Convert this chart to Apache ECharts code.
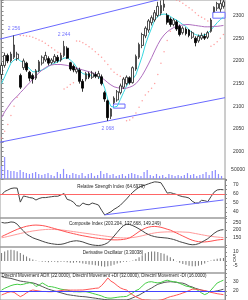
<!DOCTYPE html>
<html><head><meta charset="utf-8">
<script src="https://cdn.jsdelivr.net/npm/echarts@6/dist/echarts.min.js"></script>
<style>html,body{margin:0;padding:0;background:#fff}#c{width:248px;height:300px}</style>
</head><body><div id="c"></div>
<script>
const days = Array.from({length:72},(_,i)=>String(i+1));
const opens  = [2170,2190,2212,2200,2208,2205,2168,2185,2195,2175,2168,2162,2178,2195,2202,2205,2196,2198,2208,2202,2212,2228,2196,2188,2176,2180,2155,2160,2172,2164,2170,2165,2165,2130,2112,2078,2108,2114,2130,2142,2150,2163,2152,2182,2208,2234,2255,2268,2284,2290,2300,2305,2318,2300,2292,2280,2286,2276,2262,2270,2268,2252,2250,2244,2250,2254,2252,2265,2308,2316,2314,2320];
const closes = [2190,2212,2200,2215,2235,2215,2142,2200,2180,2162,2160,2178,2198,2208,2212,2195,2202,2210,2200,2212,2232,2206,2182,2180,2182,2155,2140,2172,2164,2173,2166,2172,2150,2116,2075,2094,2118,2132,2145,2160,2164,2152,2185,2210,2236,2258,2272,2288,2295,2306,2320,2322,2325,2285,2280,2290,2270,2258,2272,2260,2256,2262,2240,2254,2256,2250,2262,2290,2318,2326,2326,2330];
const lows   = [2160,2185,2195,2196,2204,2200,2138,2180,2176,2155,2150,2158,2175,2190,2198,2190,2192,2195,2196,2198,2208,2204,2178,2175,2172,2150,2132,2155,2160,2160,2162,2160,2146,2110,2068,2072,2105,2110,2126,2138,2146,2148,2150,2178,2204,2228,2250,2262,2278,2286,2296,2300,2310,2280,2275,2276,2266,2254,2258,2256,2252,2248,2232,2240,2246,2246,2248,2262,2307,2310,2308,2315];
const highs  = [2196,2218,2216,2220,2256,2220,2172,2205,2198,2178,2172,2182,2202,2212,2220,2210,2206,2215,2213,2218,2244,2232,2198,2192,2186,2185,2160,2176,2176,2178,2176,2178,2170,2134,2115,2096,2122,2136,2150,2164,2168,2166,2188,2214,2240,2262,2276,2292,2300,2312,2330,2333,2338,2305,2296,2294,2290,2280,2276,2274,2270,2266,2254,2258,2262,2260,2266,2294,2320,2330,2336,2334];
const maFast = [2150,2165,2180,2195,2202,2205,2200,2197,2190,2182,2176,2176,2178,2180,2183,2188,2192,2195,2198,2202,2206,2207,2202,2196,2186,2178,2172,2170,2169,2168,2168,2166,2158,2140,2115,2100,2098,2100,2115,2130,2145,2155,2160,2170,2190,2210,2235,2255,2272,2290,2298,2302,2303,2302,2298,2293,2290,2285,2280,2276,2268,2262,2258,2256,2256,2257,2261,2268,2276,2284,2291,2296];
const maSlow = [2075,2088,2098,2108,2116,2122,2130,2137,2145,2152,2160,2167,2174,2180,2185,2189,2191,2192,2192,2192,2191,2190,2188,2186,2184,2182,2180,2178,2176,2174,2171,2167,2163,2158,2152,2147,2143,2141,2140,2139,2140,2142,2145,2150,2158,2168,2180,2193,2207,2222,2236,2248,2257,2264,2269,2273,2276,2278,2279,2280,2280,2279,2278,2277,2276,2275,2275,2275,2276,2276,2277,2278];
const sar = [2030,2045,2060,2080,2100,2120,2256,2256,2255,2254,2252,2249,2246,2243,2239,2234,2229,2224,2219,2215,2138,2142,2148,2152,2244,2243,2240,2236,2231,2226,2220,2214,2208,2200,2192,2182,2175,2170,2166,2162,2068,2070,2075,2085,2098,2112,2125,2132,2140,2150,2170,2195,2220,2245,2265,2336,2334,2331,2327,2322,2317,2312,2306,2300,2296,2292,2288,2232,2236,2242,2250,2258];
const volume = [72000,122000,50000,44000,44000,39000,50000,39000,33000,28000,33000,39000,28000,22000,28000,33000,22000,17000,39000,28000,56000,28000,22000,33000,28000,22000,33000,17000,28000,33000,17000,22000,44000,28000,33000,22000,28000,17000,22000,28000,17000,28000,33000,28000,22000,17000,39000,50000,22000,17000,28000,17000,22000,11000,28000,22000,17000,22000,17000,22000,33000,22000,28000,17000,22000,28000,39000,22000,44000,50000,28000,17000];
const upperTrend = [[-0.5,2248],[71.5,2371]];
const lowerTrend = [[-0.5,2021],[71.5,2119]];
const gapBoxes = [[35.8,2096,39.5,2105],[67.6,2294,71.5,2307]];
const peaks = [[4,2256,'top'],[20,2244,'top'],[34,2068,'bottom']];
const rsi = [58.9,62.8,64.4,66.1,66.7,66.5,51,57.8,57,56,55.5,53.3,55,56,56,56.5,57,57.5,57.5,59,60.5,54,53,51,47,46.5,50,48.5,48,50,49,47.8,42,36.7,38.5,40.3,43,45,47.5,51,54.5,58.5,62,65,67.5,69,70,71.3,72.5,73.5,73.2,72.5,67,61,61.5,60.5,59.5,58,57,56.5,55.5,52,50,50,53,52.5,51.5,57,62,64.5,65,64.6979];
const rsiTrend = [[33,36.8],[71,53.4]];
const compIdx = [252,248,250,255,253,240,215,195,172,160,148,140,133,125,118,112,108,105,103,104,108,115,122,126,128,125,120,112,105,100,97,96,98,104,115,135,160,185,210,230,240,238,230,220,208,195,181,170,162,156,152,150,148,146,142,137,130,122,116,110,104,101,102,108,118,130,142,160,178,192,200,203.204];
const compFast = [156,166,176,186,196,205,213,220,226,230,233,234,233,231,227,222,216,210,204,198,192,186,181,176,171,166,162,158,154,150,147,144,141,139,137,135,134,134,135,137,141,148,160,175,190,203,213,220,224,225,223,219,213,206,200,190,180,170,160,150,140,132,126,122,120,120,122,125,129,133,135.5,137.668];
const compSlow = [148,152,157,162,167,172,177,182,186,190,194,197,200,202,204,205,205,204,203,201,199,196,193,190,187,184,181,178,175,172,169,166,163,160,157,154,151,149,148,147,147,148,150,153,157,162,167,172,177,181,184,186,187,188,188,188,188,188,187,186,185,181,177,173,169,165,161,158,155,153,151,149.249];
const derivOsc = [9,10.5,12,12.5,12,11,9,7,5,3,1.5,0.5,-0.5,-1,-1,-1.5,-1,-1,-1.5,-1,-1,-1.5,-2,-2,-1.5,-2,-3,-3.5,-4,-4.5,-5,-5.5,-6,-6.5,-6,-5.5,-4.5,-3,-2,-1,-1,-0.5,0.5,2,4,6.5,8.5,10,10.5,10.5,10,9,8,6,4,2,-0.5,-2,-3.5,-4.5,-5.5,-6,-6,-5.5,-4.5,-3,-1,0.5,1.5,2.5,3,3.30038];
const adx = [36,35,34.5,34,33,32,31,30.5,30,29.5,29,28,26.5,25,23.5,22,21,20,19,18,17,16,15.5,15,14.5,14,13.8,13.5,13,12.5,12,11.5,11,10.5,10.2,10,10,10,10,10,10,11,12.5,14,15.5,17.5,19.5,21.5,23.3,25.5,27.5,28.5,29.5,30,30.3,30,29.5,29,28.7,27.5,25.5,24.5,23,22,21,20,19.5,19.2,19.5,20.2,21,22];
const diPlus = [21,23,24.5,26,27,27.5,27,27.5,28.5,29.2,28.5,25,26.5,29,27,25,24.8,24,23,22,21.5,21,20,19.2,19.2,19,19.2,19.2,18.5,17.5,16.5,15.6,14.5,13,12.2,12,12.5,13,13.5,13.7,14,16,18,20.5,22,25.5,28.5,30,30.3,29.5,29,29.5,31,32,31,30.3,30,28.5,27,25.5,24.8,23.5,22.2,20.5,17.8,16,17.5,21,25,28.9,30.5,32];
const diMinus = [15.6,17,18.5,19.2,18.5,16,13.7,15.5,18,20,21.1,20.5,20,19.5,19.5,19.2,19.2,19.5,20,20.5,21,21.1,21,21,21,21.1,21.1,21.5,22,22.5,23,23.3,26,30,34.4,31,28.9,26,23.5,22,21.1,18,15.6,13.5,12,10.5,10,10,9.5,9.5,9.5,10,11,12.5,13.7,14.5,15.5,16.5,17.8,19,20.5,22,22,21.5,21,20.5,19.5,18.5,17.8,17,16.5,16];
const priceLabels = [2000,2050,2100,2150,2200,2250,2300];
const volLabels = [50000];
const rsiLabels = [40,50,60,70];
const compLabels = [150,200,250];
const derivLabels = [-5,0,5,10];
const dmiLabels = [20,30];

const FONT = 'Liberation Sans, Arial, sans-serif';
const ohlc = opens.map((o,i)=>[o,closes[i],lows[i],highs[i]]);
const grids = [
  {left:0, top:0, width:225, height:179},
  {left:0, top:150, width:225, height:29},
  {left:0, top:179, width:225, height:39},
  {left:0, top:218, width:225, height:29},
  {left:0, top:247, width:225, height:26},
  {left:0, top:273, width:225, height:27}
].map((g,i)=>Object.assign(g,{show:i!==1, borderColor:'#9a9a9a', borderWidth:1, backgroundColor:'transparent'}));

function catX(gi){return {type:'category', gridIndex:gi, data:days, show:false, boundaryGap:true};}
function yAx(gi, labels, extra){
  return Object.assign({type:'value', gridIndex:gi, position:'right',
    axisLine:{show:true, lineStyle:{color:'#8a8a8a', width:1}},
    axisTick:{show:true, length:2, lineStyle:{color:'#8a8a8a'}},
    splitLine:{show:false},
    axisLabel:{fontSize:5, color:'#333', margin:8, fontFamily:FONT, showMinLabel:true, showMaxLabel:true,
      formatter:v=>{const r=Math.round(v*1000)/1000; return labels.indexOf(r)>=0?String(r):'';}}
  }, extra);
}
const xAxis = [catX(0), {type:'value', gridIndex:0, min:-0.5, max:71.5, show:false}, catX(1), catX(2), catX(3), catX(4), catX(5)];
const yAxis = [
  yAx(0, priceLabels, {min:1940, max:2334, interval:10}),
  yAx(1, volLabels, {min:0, max:161111, interval:50000, axisLine:{show:false}, axisTick:{show:false}}),
  yAx(2, rsiLabels, {min:33.33, max:76.67, splitNumber:9}),
  yAx(3, compLabels, {min:85.8, max:281.8, splitNumber:4, minorTick:{show:true, splitNumber:4, length:1, lineStyle:{color:'#8a8a8a'}}}),
  yAx(4, derivLabels, {min:-13.7, max:15.7, splitNumber:6}),
  yAx(5, dmiLabels, {min:10, max:40, interval:5})
];
function line(name, xi, yi, data, color, w){
  return {name, type:'line', xAxisIndex:xi, yAxisIndex:yi, data, showSymbol:false, symbol:'none',
    lineStyle:{color, width:w||1}, itemStyle:{color}, clip:true, silent:true, z:3};
}
const fmtK = v => String(v).replace(/(\d)(\d{3})$/, '$1 $2');
const series = [
  {type:'candlestick', xAxisIndex:0, yAxisIndex:0, data:ohlc, barWidth:2.2,
   itemStyle:{color:'#ffffff', color0:'#000000', borderColor:'#222', borderColor0:'#000', borderWidth:0.8}, z:4},
  line('maFast',0,0,maFast,'#38d8e0',1),
  line('maSlow',0,0,maSlow,'#b070c0',1),
  {type:'scatter', xAxisIndex:0, yAxisIndex:0, data:sar, symbol:'circle', symbolSize:1.5, itemStyle:{color:'#ff8888'}, silent:true, z:2},
  Object.assign(line('upper',1,0,upperTrend,'#6a6aff',1), {
    markArea:{silent:true, data:gapBoxes.map(b=>[{coord:[b[0],b[1]]},{coord:[b[2],b[3]]}]),
      itemStyle:{color:'rgba(255,255,255,0.9)', borderColor:'#6a6aff', borderWidth:1}}}),
  line('lower',1,0,lowerTrend,'#6a6aff',1),
  {type:'scatter', xAxisIndex:0, yAxisIndex:0, symbolSize:0, silent:true, z:6,
   data:peaks.map(p=>({value:[p[0],p[1]], label:{position:p[2], distance:p[2]==='top'?4:5}})),
   label:{show:true, fontSize:5, color:'#5050ff', fontFamily:FONT, formatter:p=>fmtK(p.value[1])}},
  {type:'bar', xAxisIndex:2, yAxisIndex:1, data:volume, barWidth:1.2, itemStyle:{color:'#8c8cff'}, silent:true},
  Object.assign(line('rsi',3,2,rsi,'#444',1), {markLine:{silent:true, symbol:'none', label:{show:false},
    lineStyle:{color:'#ff6666', width:1, type:'solid'}, data:[{yAxis:60}]}}),
  line('rsiTrend',3,2,rsiTrend,'#6a6aff',1),
  line('compSlow',4,3,compSlow,'#ff9a9a',1),
  line('compFast',4,3,compFast,'#ff5050',1),
  line('comp',4,3,compIdx,'#444',1),
  {type:'bar', xAxisIndex:5, yAxisIndex:4, data:derivOsc, barWidth:0.9, itemStyle:{color:'#777'}, silent:true},
  Object.assign(line('adx',6,5,adx,'#555',1), {markLine:{silent:true, symbol:'none', label:{show:false},
    lineStyle:{color:'#4444ff', width:1, type:'solid'}, data:[{yAxis:20}]}}),
  line('diPlus',6,5,diPlus,'#44cc44',1),
  line('diMinus',6,5,diMinus,'#ff5555',1)
];
function title(text, x, y){
  return {type:'text', x, y, z:100, silent:true,
    style:{text, fill:'#222', font:'4.5px '+FONT, textAlign:'center', textVerticalAlign:'middle'}};
}
const chart = echarts.init(document.getElementById('c'), null, {renderer:'canvas'});
chart.setOption({
  animation:false, backgroundColor:'#fff',
  grid:grids, xAxis, yAxis, series,
  graphic:[
    title('Relative Strength Index (64.6979)', 111, 186.5),
    title('Composite Index (203.204, 137.668, 149.249)', 115, 223.5),
    title('Derivative Oscillator (3.30038)', 113, 252.5),
    title('Directnl Movement ADX (22.0000), Directnl Movement +DI (32.0000), Directnl Movement -DI (16.0000)', 104, 276)
  ]
});
</script></body></html>
